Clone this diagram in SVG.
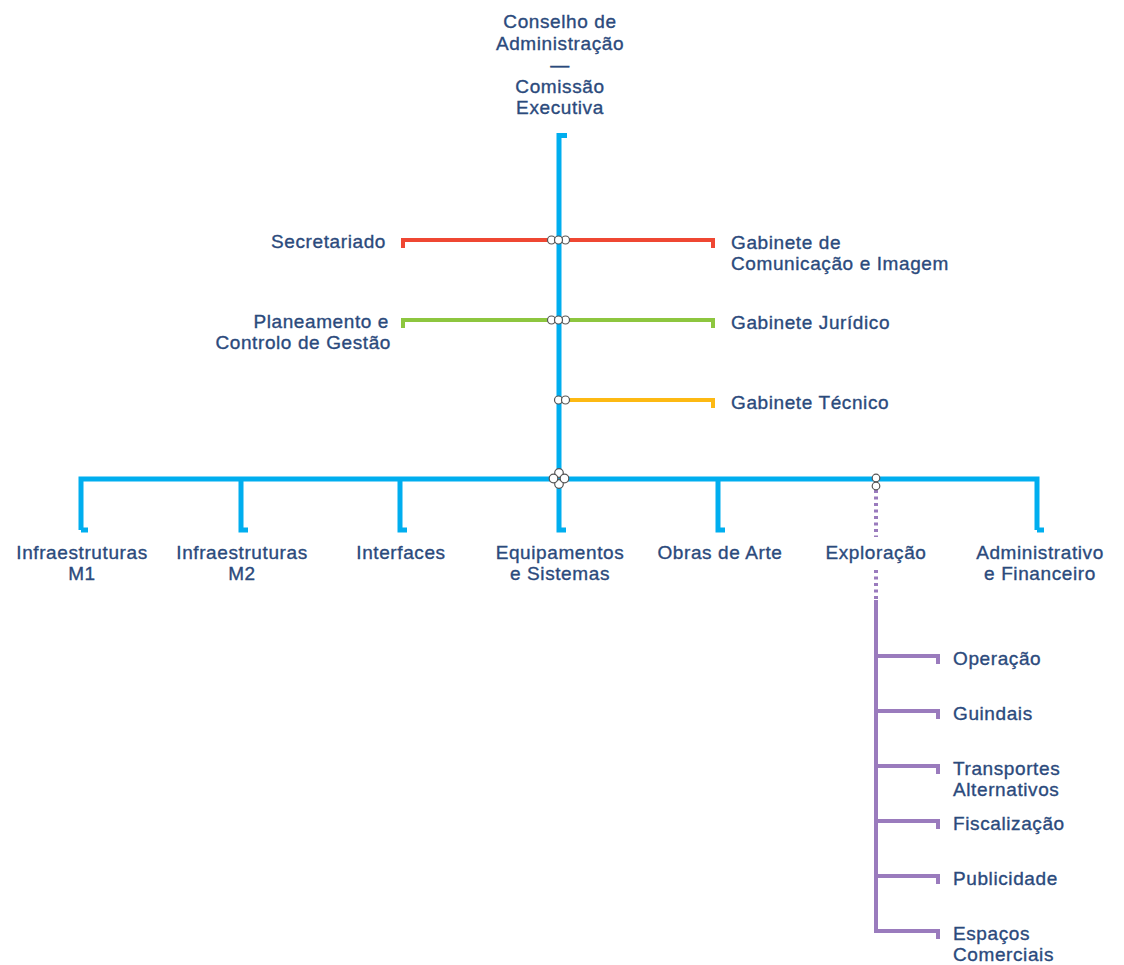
<svg xmlns="http://www.w3.org/2000/svg" width="1124" height="965" viewBox="0 0 1124 965">
<style>
text{font-family:"Liberation Sans",Arial,sans-serif;font-size:19px;fill:#2b4a7c;stroke:#2b4a7c;stroke-width:0.35px;letter-spacing:0.6px}
.c{text-anchor:middle}
.r{text-anchor:end}
.ln{fill:none;stroke-linejoin:miter;stroke-linecap:butt}
.blue{stroke:#00aeef;stroke-width:5}
.red{stroke:#ef4733;stroke-width:4}
.green{stroke:#8dc63f;stroke-width:4}
.orange{stroke:#fdb913;stroke-width:4}
.purple{stroke:#9a7bbd;stroke-width:4}
.dots{stroke-dasharray:3 3.5}
.j{fill:#fff;stroke:#555;stroke-width:1.2}
</style>
<rect width="1124" height="965" fill="#fff"/>
<g id="connectors">
<path class="ln blue" d="M567,135.5 H559 V479"/>
<path class="ln red" d="M403,248 V240 H713 V248"/>
<path class="ln green" d="M403,328 V320 H713 V328"/>
<path class="ln orange" d="M559,400 H713 V408"/>
<path class="ln blue" d="M81,530 V479 H1037 V530"/>
<path class="ln blue" d="M88,530 H81"/>
<path class="ln blue" d="M241,479 V530 H248"/>
<path class="ln blue" d="M400,479 V530 H407"/>
<path class="ln blue" d="M559,479 V530 H566"/>
<path class="ln blue" d="M718,479 V530 H725"/>
<path class="ln blue" d="M1037,530 H1044"/>
<path class="ln purple dots" d="M876,490 V537"/>
<path class="ln purple dots" d="M876,570 V600"/>
<path class="ln purple" d="M876,600 V931 H938 V939"/>
<path class="ln purple" d="M876,656 H938 V664"/>
<path class="ln purple" d="M876,711 H938 V719"/>
<path class="ln purple" d="M876,766 H938 V774"/>
<path class="ln purple" d="M876,821 H938 V829"/>
<path class="ln purple" d="M876,876 H938 V884"/>
<g id="junctions">
<circle class="j" cx="551.5" cy="240" r="4"/><circle class="j" cx="565.5" cy="240" r="4"/><circle class="j" cx="558.5" cy="240" r="4"/>
<circle class="j" cx="551.5" cy="320" r="4"/><circle class="j" cx="565.5" cy="320" r="4"/><circle class="j" cx="558.5" cy="320" r="4"/>
<circle class="j" cx="558.5" cy="400" r="4"/><circle class="j" cx="565.5" cy="400" r="4"/>
<circle class="j" cx="559" cy="473" r="4.3"/><circle class="j" cx="559" cy="484" r="4.3"/><circle class="j" cx="553.5" cy="478.5" r="4.3"/><circle class="j" cx="564.5" cy="478.5" r="4.3"/>
<circle class="j" cx="876" cy="478" r="3.8"/><circle class="j" cx="876" cy="486" r="3.8"/>
</g>
</g>
<g id="conselho"><text class="c" x="560" y="28">Conselho de</text><text class="c" x="560" y="50">Administração</text><text class="c" x="560" y="71">—</text><text class="c" x="560" y="93">Comissão</text><text class="c" x="560" y="114">Executiva</text></g>
<g id="secretariado"><text class="r" x="386" y="248">Secretariado</text></g>
<g id="planeamento"><text class="r" x="389" y="328">Planeamento e</text><text class="r" x="391" y="349">Controlo de Gestão</text></g>
<g id="gab-comunicacao"><text x="731" y="249">Gabinete de</text><text x="731" y="270">Comunicação e Imagem</text></g>
<g id="gab-juridico"><text x="731" y="329">Gabinete Jurídico</text></g>
<g id="gab-tecnico"><text x="731" y="409">Gabinete Técnico</text></g>
<g id="infra-m1"><text class="c" x="82" y="559">Infraestruturas</text><text class="c" x="82" y="580">M1</text></g>
<g id="infra-m2"><text class="c" x="242" y="559">Infraestruturas</text><text class="c" x="242" y="580">M2</text></g>
<g id="interfaces"><text class="c" x="401" y="559">Interfaces</text></g>
<g id="equipamentos"><text class="c" x="560" y="559">Equipamentos</text><text class="c" x="560" y="580">e Sistemas</text></g>
<g id="obras"><text class="c" x="720" y="559">Obras de Arte</text></g>
<g id="exploracao"><text class="c" x="876" y="559">Exploração</text></g>
<g id="administrativo"><text class="c" x="1040" y="559">Administrativo</text><text class="c" x="1040" y="580">e Financeiro</text></g>
<g id="operacao"><text x="953" y="665">Operação</text></g>
<g id="guindais"><text x="953" y="720">Guindais</text></g>
<g id="transportes"><text x="953" y="775">Transportes</text><text x="953" y="796">Alternativos</text></g>
<g id="fiscalizacao"><text x="953" y="830">Fiscalização</text></g>
<g id="publicidade"><text x="953" y="885">Publicidade</text></g>
<g id="espacos"><text x="953" y="940">Espaços</text><text x="953" y="961">Comerciais</text></g>
</svg>
